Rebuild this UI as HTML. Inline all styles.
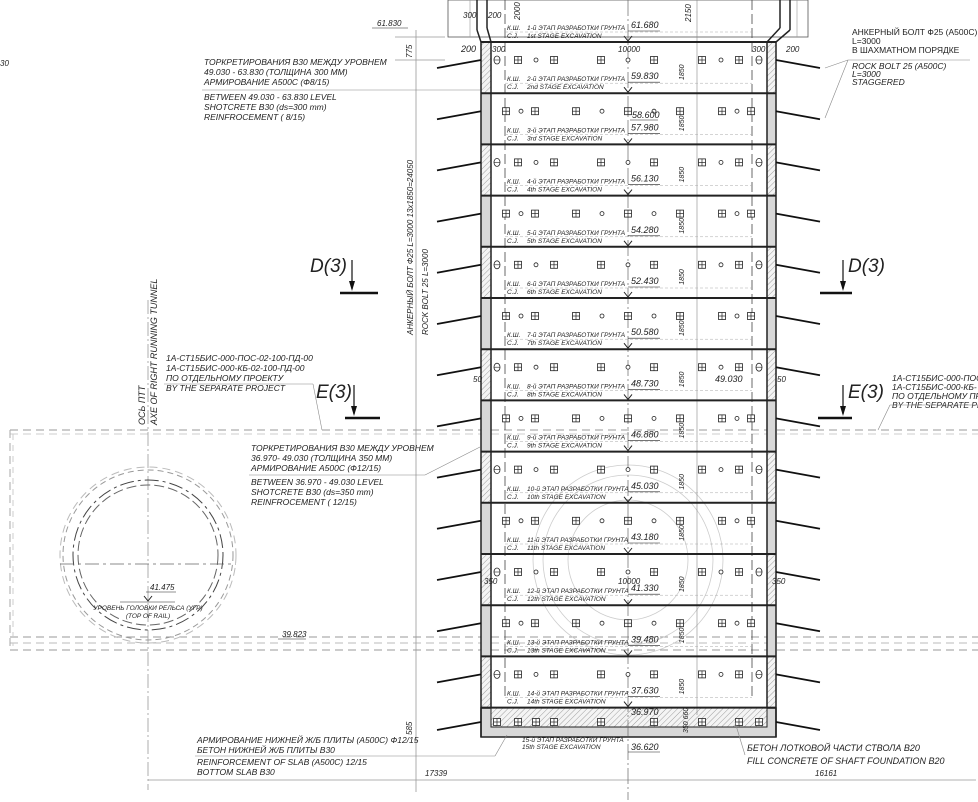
<!DOCTYPE html>
<html><head><meta charset="utf-8">
<style>
html,body{margin:0;padding:0;background:#fff;width:978px;height:802px;overflow:hidden}
svg{display:block}
text{font-family:"Liberation Sans","DejaVu Sans",sans-serif;font-style:italic;fill:#222}
</style></head>
<body>
<svg id="s" width="978" height="802" viewBox="0 0 978 802" xmlns="http://www.w3.org/2000/svg">
<defs>
<pattern id="h" width="4" height="4" patternUnits="userSpaceOnUse" patternTransform="rotate(45)">
<rect width="4" height="4" fill="#f4f4f4"/><line x1="0" y1="0" x2="0" y2="4" stroke="#888" stroke-width="0.8"/>
</pattern>
</defs>
<g id="g"></g>
</svg>
<script>
const g=document.getElementById('g');let o='';
function L(x1,y1,x2,y2,c,w,d){o+=`<line x1="${x1}" y1="${y1}" x2="${x2}" y2="${y2}" stroke="${c||'#222'}" stroke-width="${w||1}"${d?` stroke-dasharray="${d}"`:''}/>`}
function R(x,y,w,h,f,s,sw){o+=`<rect x="${x}" y="${y}" width="${w}" height="${h}" fill="${f||'none'}" stroke="${s||'none'}" stroke-width="${sw||1}"/>`}
function T(x,y,t,sz,extra){o+=`<text x="${x}" y="${y}" font-size="${sz||8}" ${extra||''}>${t}</text>`}
function TR(x,y,t,sz){o+=`<text x="${x}" y="${y}" font-size="${sz||8}" transform="rotate(-90 ${x} ${y})">${t}</text>`}
L(10,430,978,430,'#999',1,'8 5');L(10,434,978,434,'#ccc',1,'8 5');
L(10,637,978,637,'#999',1,'8 5');L(10,643,978,643,'#bbb',1,'8 5');L(10,650,978,650,'#999',1,'8 5');
L(10,430,10,650,'#aaa',1,'8 5');L(13,434,13,646,'#ccc',1,'6 5');
L(416,30,416,792,'#999',0.8);L(148,300,148,790,'#999',0.8,'14 3 2 3');
L(148,780,976,780,'#999',0.8);
L(395,37,445,37,'#999',0.8);L(395,60,445,60,'#999',0.8);
[[85,'6 4','#999'],[88,'8 5','#bbb'],[75,'14 4 3 4','#444'],[70,'10 4','#666']].forEach(a=>{o+=`<ellipse cx="148" cy="555" rx="${a[0]}" ry="${a[0]}" fill="none" stroke="${a[2]}" stroke-dasharray="${a[1]}"/>`});
L(60,564,236,564,'#666',0.8,'14 4 3 4');
[[628,560,95],[628,560,85],[628,560,60]].forEach(c=>{o+=`<circle cx="${c[0]}" cy="${c[1]}" r="${c[2]}" fill="none" stroke="#ccc" stroke-width="0.8"/>`});
R(448,0,360,37,'none','#555',0.8);
L(477,0,477,30,'#222',1.5);L(487,0,487,28,'#222',1.5);L(477,30,481,42,'#222',1.5);L(487,28,491,42,'#222',1.5);
L(790,0,790,30,'#222',1.5);L(780,0,780,28,'#222',1.5);L(790,30,776,42,'#222',1.5);L(780,28,767,42,'#222',1.5);
L(470,0,470,37,'#999',0.6);L(797,0,797,37,'#999',0.6);
const dy=51.2,y0=42;
const lv=['61.680','59.830','57.980','56.130','54.280','52.430','50.580','48.730','46.880','45.030','43.180','41.330','39.480','37.630'];
const ord=['1st','2nd','3rd','4th','5th','6th','7th','8th','9th','10th','11th','12th','13th','14th'];
for(let k=0;k<13;k++){
 const y=y0+k*dy;
 const f=k%2==0?'url(#h)':'#d8d8d8';
 R(481,y,10,dy,f,'#222',0.8);R(767,y,9,dy,f,'#222',0.8);
}
R(481,708,295,29,'#d8d8d8','#222',1.5);R(491,708,276,19,'url(#h)','#222',1);
L(481,42,481,737,'#222',1.5);L(491,42,491,708,'#222',1.5);L(767,42,767,708,'#222',1.5);L(776,42,776,737,'#222',1.5);
L(505,0,505,700,'#444',0.8,'10 4');L(752,0,752,700,'#444',0.8,'10 4');
L(628,0,628,800,'#666',0.7,'16 3 2 3');L(697,0,697,715,'#888',0.6);
for(let k=0;k<14;k++){
 const y=y0+k*dy;
 L(481,y,776,y,'#222',2);
 const ly=y-12;
 T(507,ly,'К.Ш.',6.5);T(507,ly+8,'C.J.',6.5);
 T(527,ly,`${k+1}-й ЭТАП РАЗРАБОТКИ ГРУНТА`,6.5);T(527,ly+8,`${ord[k]} STAGE EXCAVATION`,6.5);
 T(631,ly-2,lv[k],9);L(628,ly+1,660,ly+1,'#222',0.6);
 o+=`<path d="M624 ${y-6} L628 ${y-1} L632 ${y-6}" fill="none" stroke="#222"/>`;
 L(505,y-10,752,y-10,'#aaa',0.5,'3 2');
}
const A=[[497,'o'],[518,'b'],[536,'c'],[554,'b'],[601,'b'],[628,'c'],[654,'b'],[702,'b'],[721,'c'],[739,'b'],[759,'o']];
const B=[[506,'b'],[521,'c'],[535,'b'],[576,'b'],[602,'c'],[628,'b'],[654,'c'],[680,'b'],[722,'b'],[737,'c'],[751,'b']];
for(let k=0;k<13;k++){
 const y=y0+k*dy+18;
 (k%2==0?A:B).forEach(p=>{const x=p[0];
  if(p[1]=='b'){R(x-3.5,y-3.5,7,7,'#fff','#222',0.8);L(x-3.5,y,x+3.5,y,'#222',0.7);L(x,y-3.5,x,y+3.5,'#222',0.7);}
  else if(p[1]=='c'){o+=`<circle cx="${x}" cy="${y}" r="2" fill="#fff" stroke="#222" stroke-width="0.8"/>`}
  else{o+=`<ellipse cx="${x}" cy="${y}" rx="3" ry="4" fill="#fff" stroke="#222" stroke-width="0.8"/>`;L(x-3,y,x+3,y,'#222',0.6)}
 });
 L(437,y+8,481,y,'#111',1.8);L(776,y,820,y+8,'#111',1.8);
 T(684,y+20,'1850',7,`transform="rotate(-90 684 ${y+20})"`);
}
const ys=722;
[497,518,536,554,601,654,702,739,759].forEach(x=>{R(x-3.5,ys-3.5,7,7,'#fff','#222',0.8);L(x-3.5,ys,x+3.5,ys,'#222',0.7);L(x,ys-3.5,x,ys+3.5,'#222',0.7);});
L(437,730,481,722,'#111',1.8);L(776,722,820,730,'#111',1.8);
T(631,715,'36.970',9);T(631,750,'36.620',9);L(628,752,660,752,'#222',0.6);
T(522,742,'15-й ЭТАП РАЗРАБОТКИ ГРУНТА',6.5);T(522,749,'15th STAGE EXCAVATION',6.5);
T(632,118,'58.600',9);L(630,120,658,120,'#222',0.6);T(715,382,'49.030',9);
T(688,733,'350 660',7,'transform="rotate(-90 688 733)"');
T(463,18,'300',8);T(488,18,'200',8);T(520,20,'2000',8,'transform="rotate(-90 520 20)"');T(691,22,'2150',8,'transform="rotate(-90 691 22)"');
T(461,52,'200',9);T(492,52,'300',8);T(618,52,'10000',8);T(752,52,'300',8);T(786,52,'200',8);
T(618,584,'10000',8);T(484,584,'350',8);T(772,584,'350',8);T(473,382,'50',8);T(777,382,'50',8);
T(377,26,'61.830',8);L(372,28,408,28,'#222',0.6);
T(412,58,'775',8,'transform="rotate(-90 412 58)"');T(412,735,'585',8,'transform="rotate(-90 412 735)"');
T(0,66,'30',8);
['ТОРКРЕТИРОВАНИЯ В30  МЕЖДУ УРОВНЕМ','49.030 - 63.830 (ТОЛЩИНА 300 ММ)','АРМИРОВАНИЕ А500С (Ф8/15)'].forEach((t,i)=>T(204,65+i*10,t,8.5));
L(202,90,480,90,'#888',0.6);
['BETWEEN 49.030 - 63.830 LEVEL','SHOTCRETE B30 (ds=300 mm)','REINFROCEMENT (    8/15)'].forEach((t,i)=>T(204,100+i*10,t,8.5));
TR(413,335,'АНКЕРНЫЙ БОЛТ Ф25 L=3000    13х1850=24050',8);TR(428,335,'ROCK BOLT    25 L=3000',8);
function sec(x,y,lab,ax,bx1,bx2,by){T(x,y,lab,19);L(ax,by-33,ax,by-4,'#111',1.2);o+=`<path d="M${ax-3} ${by-12} L${ax} ${by-2} L${ax+3} ${by-12}Z" fill="#111"/>`;L(bx1,by,bx2,by,'#111',2.5)}
sec(310,272,'D(3)',352,340,378,293);sec(848,272,'D(3)',843,820,852,293);
sec(316,398,'E(3)',354,345,380,418);sec(848,398,'E(3)',843,818,852,418);
TR(145,425,'ОСЬ ПТТ',9);TR(157,425,'AXE OF RIGHT RUNNING TUNNEL',9);
['1А-СТ15БИС-000-ПОС-02-100-ПД-00','1А-СТ15БИС-000-КБ-02-100-ПД-00','ПО ОТДЕЛЬНОМУ ПРОЕКТУ','BY THE SEPARATE PROJECT'].forEach((t,i)=>T(166,361+i*10,t,8.5));
L(164,384,313,384,'#888',0.6);L(313,384,322,430,'#888',0.6);
['ТОРКРЕТИРОВАНИЯ В30  МЕЖДУ УРОВНЕМ','36.970- 49.030 (ТОЛЩИНА 350 ММ)','АРМИРОВАНИЕ А500С (Ф12/15)'].forEach((t,i)=>T(251,451+i*10,t,8.5));
L(249,475,425,475,'#888',0.6);L(425,475,480,447,'#888',0.6);
['BETWEEN 36.970 - 49.030 LEVEL','SHOTCRETE B30 (ds=350 mm)','REINFROCEMENT (    12/15)'].forEach((t,i)=>T(251,485+i*10,t,8.5));
T(150,590,'41.475',8);L(146,592,176,592,'#222',0.6);o+=`<path d="M144 596 L148 601 L152 596" fill="none" stroke="#222"/>`;L(120,602,175,602,'#222',0.6);
T(148,610,'УРОВЕНЬ ГОЛОВКИ РЕЛЬСА (УГР)',6.5,'text-anchor="middle"');T(148,618,'(TOP OF RAIL)',6.5,'text-anchor="middle"');
T(282,637,'39.823',8);L(278,639,306,639,'#222',0.6);
['АРМИРОВАНИЕ НИЖНЕЙ Ж/Б ПЛИТЫ (А500С) Ф12/15','БЕТОН НИЖНЕЙ Ж/Б ПЛИТЫ В30'].forEach((t,i)=>T(197,743+i*10,t,8.5));
L(195,756,495,756,'#888',0.6);L(495,756,507,735,'#888',0.6);
['REINFORCEMENT OF SLAB (A500C)    12/15','BOTTOM SLAB B30'].forEach((t,i)=>T(197,765+i*10,t,8.5));
T(425,776,'17339',8);T(815,776,'16161',8);
T(747,751,'БЕТОН ЛОТКОВОЙ ЧАСТИ СТВОЛА В20',9);T(747,764,'FILL CONCRETE OF SHAFT FOUNDATION B20',9);
L(745,755,735,722,'#888',0.6);
['АНКЕРНЫЙ БОЛТ Ф25 (А500С)','L=3000','В ШАХМАТНОМ ПОРЯДКЕ'].forEach((t,i)=>T(852,35+i*9,t,8.5,'style="font-style:normal"'));
L(848,60,970,60,'#888',0.6);L(848,60,825,68,'#888',0.6);L(848,60,825,118,'#888',0.6);
['ROCK BOLT    25 (A500C)','L=3000','STAGGERED'].forEach((t,i)=>T(852,69+i*8,t,8.5));
['1А-СТ15БИС-000-ПОС','1А-СТ15БИС-000-КБ-','ПО ОТДЕЛЬНОМУ ПРО','BY THE SEPARATE PRO'].forEach((t,i)=>T(892,381+i*9,t,8.5));
L(890,405,978,405,'#888',0.6);L(890,405,878,430,'#888',0.6);
g.innerHTML=o;
</script>
</body></html>
